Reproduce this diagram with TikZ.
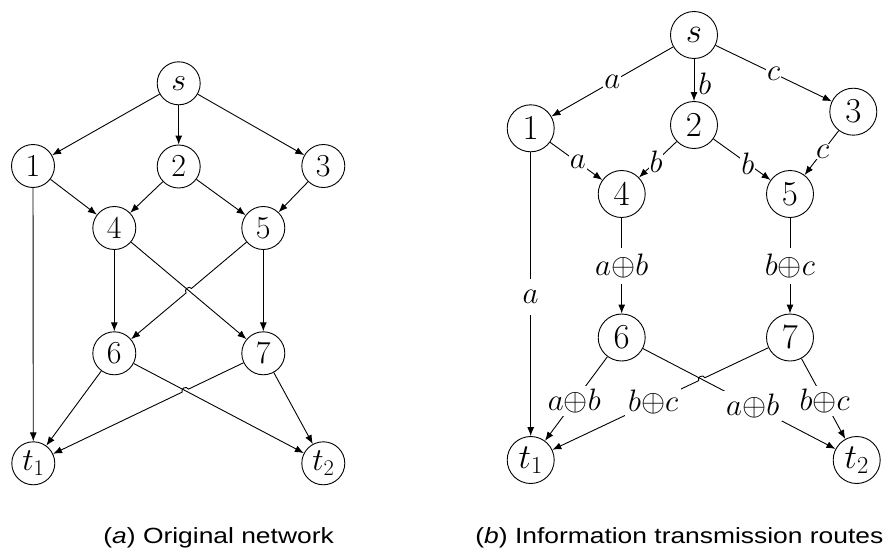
\RequirePackage{fix-cm}
\documentclass[tikz,border=0pt]{standalone}
\usepackage{graphicx}
\usepackage{fontspec}
\newfontfamily\capfont{Liberation Sans}
\usetikzlibrary{arrows.meta,calc}
\begin{document}
\begin{tikzpicture}[x=1pt,y=-1pt, line width=0.9pt,
  nd/.style={circle,draw,minimum size=43pt,inner sep=0pt,font=\fontsize{32}{38}\selectfont},
  ndr/.style={nd,minimum size=47pt,font=\fontsize{35}{40}\selectfont},
  arr/.style={-{Latex[length=9pt,width=7pt]}},
  hop/.style={bend right=90,looseness=1.5},
  lab/.style={fill=white,inner sep=1pt,font=\fontsize{31}{36}\selectfont},
  vlab/.style={lab,inner sep=6pt},
  alab/.style={lab,inner sep=11pt},
  blab/.style={lab,inner sep=3pt},
  captxt/.style={anchor=base west,inner sep=0pt,font=\capfont\fontsize{22}{26}\selectfont}]
\useasboundingbox (0,0) rectangle (889,554);

% ---------- (a) original network ----------
\node[nd] (s) at (178.7,83.3) {$s$};
\node[nd] (n1) at (33,166) {$1$};
\node[nd] (n2) at (178.7,166.5) {$2$};
\node[nd] (n3) at (323.3,166) {$3$};
\node[nd] (n4) at (114.3,228) {$4$};
\node[nd] (n5) at (263.3,228) {$5$};
\node[nd] (n6) at (114.3,353.3) {$6$};
\node[nd] (n7) at (263.3,353.3) {$7$};
\node[nd] (t1) at (33.3,463.3) {$t_1$};
\node[nd] (t2) at (323.3,463.3) {$t_2$};

\draw[arr] (s) -- (n1);
\draw[arr] (s) -- (n2);
\draw[arr] (s) -- (n3);
\draw[arr] (n1) -- (n4);
\draw[arr] (n2) -- (n4);
\draw[arr] (n2) -- (n5);
\draw[arr] (n3) -- (n5);
\draw[arr] (n4) -- (n6);
\draw[arr] (n5) -- (n7);
\draw[arr] (n4) -- (n7);
\coordinate (xa) at (intersection of n4--n7 and n5--n6);
\draw[arr] (n5) -- ($(xa)!3.5pt!(n5)$) to[hop] ($(xa)!3.5pt!(n6)$) -- (n6);
\draw[arr] (n1) -- (t1);
\draw[arr] (n6) -- (t1);
\draw[arr] (n6) -- (t2);
\coordinate (xb) at (intersection of n6--t2 and n7--t1);
\draw[arr] (n7) -- ($(xb)!3.5pt!(n7)$) to[hop] ($(xb)!3.5pt!(t1)$) -- (t1);
\draw[arr] (n7) -- (t2);

% ---------- (b) information transmission routes ----------
\node[ndr] (rs) at (694,35) {$s$};
\node[ndr] (r1) at (530.7,128.3) {$1$};
\node[ndr] (r2) at (694,125) {$2$};
\node[ndr] (r3) at (853.3,111.7) {$3$};
\node[ndr] (r4) at (621.7,194) {$4$};
\node[ndr] (r5) at (790,194) {$5$};
\node[ndr] (r6) at (621.7,337.5) {$6$};
\node[ndr] (r7) at (790,337.5) {$7$};
\node[ndr] (rt1) at (530.7,460) {$t_1$};
\node[ndr] (rt2) at (856.7,460) {$t_2$};

\draw[arr] (rs) -- node[lab,pos=0.5] {$a$} (r1);
\draw[arr] (rs) -- node[right,inner sep=4pt,font=\fontsize{31}{36}\selectfont,pos=0.58] {$b$} (r2);
\draw[arr] (rs) -- node[lab,pos=0.5] {$c$} (r3);
\draw[arr] (r1) -- node[lab,pos=0.53] {$a$} (r4);
\draw[arr] (r2) -- node[lab,pos=0.55] {$b$} (r4);
\draw[arr] (r2) -- node[lab,pos=0.6] {$b$} (r5);
\draw[arr] (r3) -- node[lab,pos=0.47] {$c$} (r5);
\draw[arr] (r4) -- node[vlab,pos=0.5] {$a{\oplus}b$} (r6);
\draw[arr] (r5) -- node[vlab,pos=0.5] {$b{\oplus}c$} (r7);
\draw[arr] (r1) -- node[alab,pos=0.51] {$a$} (rt1);
\draw[arr] (r6) -- node[blab,pos=0.53] {$a{\oplus}b$} (rt1);
\draw[arr] (r6) -- node[blab,pos=0.57] {$a{\oplus}b$} (rt2);
\coordinate (xc) at (intersection of r6--rt2 and r7--rt1);
\draw[arr] (r7) -- ($(xc)!3.5pt!(r7)$) to[hop] ($(xc)!3.5pt!(rt1)$) -- node[blab,pos=0.31] {$b{\oplus}c$} (rt1);
\draw[arr] (r7) -- node[blab,pos=0.53] {$b{\oplus}c$} (rt2);

% ---------- captions ----------
\node[captxt] (capa) at (103,543) {\scalebox{1.2}[1]{(\textit{a}) Original network}};
\node[captxt] (capb) at (475,543) {\scalebox{1.2}[1]{(\textit{b}) Information transmission routes}};
\end{tikzpicture}
\end{document}
